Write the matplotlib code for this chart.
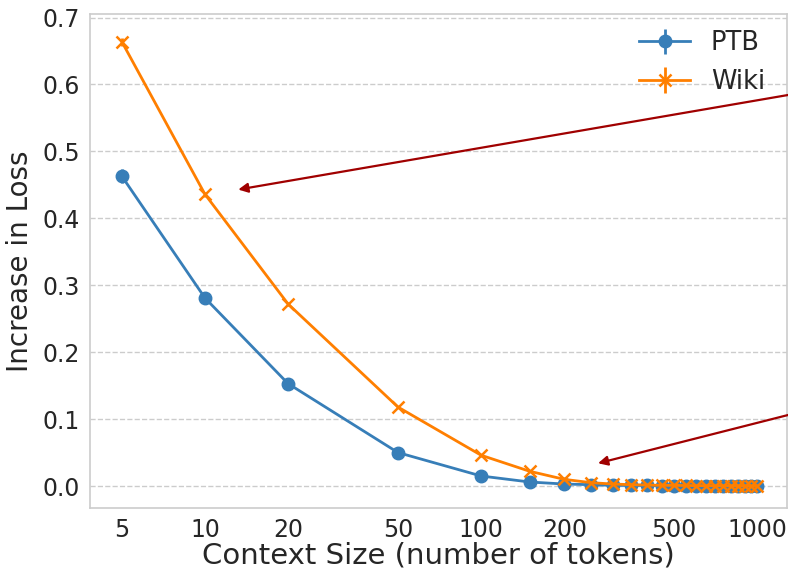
import matplotlib
matplotlib.use("Agg")
import matplotlib.pyplot as plt
import numpy as np

context = [5, 10, 20, 50, 100, 150, 200, 250, 300, 350, 400, 450, 500, 550, 600,
           650, 700, 750, 800, 850, 900, 950, 1000]
ptb = [0.463, 0.281, 0.153, 0.050, 0.015, 0.006, 0.003, 0.002, 0.001, 0.001, 0.001,
       0.0005, 0.0005, 0.0005, 0.0003, 0.0003, 0.0003, 0.0002, 0.0002, 0.0002, 0.0001, 0.0001, 0.0001]
ptb_err = [0.010, 0.006, 0.004, 0.003, 0.002, 0.001, 0.001, 0.001, 0.001, 0.001, 0.001,
           0.001, 0.001, 0.001, 0.001, 0.001, 0.001, 0.001, 0.001, 0.001, 0.001, 0.001, 0.001]
wiki = [0.664, 0.436, 0.272, 0.118, 0.046, 0.022, 0.010, 0.005, 0.003, 0.002, 0.0015,
        0.001, 0.001, 0.0008, 0.0006, 0.0005, 0.0004, 0.0003, 0.0003, 0.0002, 0.0002, 0.0001, 0.0001]
wiki_err = [0.006, 0.004, 0.003, 0.002, 0.002, 0.001, 0.001, 0.001, 0.001, 0.001, 0.001,
            0.001, 0.001, 0.001, 0.001, 0.001, 0.001, 0.001, 0.001, 0.001, 0.001, 0.001, 0.001]
xticks = [5, 10, 20, 50, 100, 200, 500, 1000]
yticks = [0.0, 0.1, 0.2, 0.3, 0.4, 0.5, 0.6, 0.7]

blue = "#377eb8"
orange = "#ff7f00"
text_c = "#262626"

fig = plt.figure(figsize=(7.88, 5.69), dpi=100)
ax = fig.add_axes([0.114, 0.107, 0.885, 0.868])

ax.errorbar(context, ptb, yerr=ptb_err, color=blue, marker="o", markersize=9,
            linewidth=2, elinewidth=2, capsize=0, label="PTB", zorder=3)
ax.errorbar(context, wiki, yerr=wiki_err, color=orange, marker="x", markersize=9,
            markeredgewidth=1.8, linewidth=2, elinewidth=2, capsize=0, label="Wiki", zorder=4)

ax.set_xscale("log")
ax.set_xlim(3.83, 1283)
ax.set_ylim(-0.033, 0.705)
ax.set_xticks(xticks)
ax.set_xticklabels([str(t) for t in xticks])
ax.xaxis.set_minor_locator(matplotlib.ticker.NullLocator())
ax.set_yticks(yticks)
ax.set_yticklabels([f"{t:.1f}" for t in yticks])
ax.tick_params(axis="both", labelsize=17, colors=text_c, length=0, pad=7)

ax.yaxis.grid(True, linestyle="--", color="#cccccc", linewidth=1)
ax.xaxis.grid(False)
for s in ax.spines.values():
    s.set_color("#cccccc")
    s.set_linewidth(1.2)

ax.set_xlabel("Context Size (number of tokens)", fontsize=21, color=text_c, labelpad=0)
ax.set_ylabel("Increase in Loss", fontsize=20, color=text_c, labelpad=6)

leg = ax.legend(loc="upper right", fontsize=18.5, frameon=False, handlelength=2.0,
                bbox_to_anchor=(0.983, 0.988), borderaxespad=0.0)
for t in leg.get_texts():
    t.set_color(text_c)

arrow_c = "#a00000"
ax.annotate("", xy=(13.2, 0.443), xycoords="data",
            xytext=(820 / 788, 1 - 89.5 / 569), textcoords="figure fraction",
            arrowprops=dict(arrowstyle="-|>", color=arrow_c, lw=1.6,
                            mutation_scale=14, shrinkA=0, shrinkB=0),
            annotation_clip=False)
ax.annotate("", xy=(265, 0.034), xycoords="data",
            xytext=(820 / 788, 1 - 406.9 / 569), textcoords="figure fraction",
            arrowprops=dict(arrowstyle="-|>", color=arrow_c, lw=1.6,
                            mutation_scale=14, shrinkA=0, shrinkB=0),
            annotation_clip=False)

fig.savefig("out.png", dpi=100)
